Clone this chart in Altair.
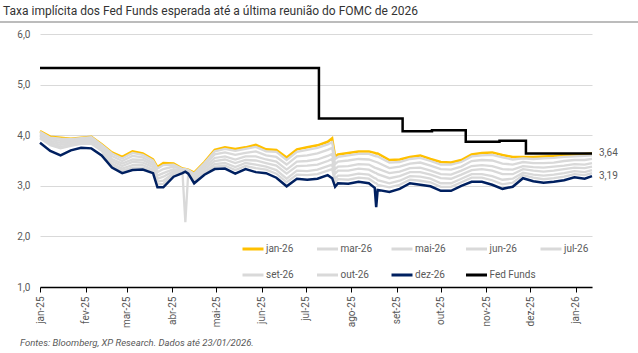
import altair as alt
import pandas as pd

# ---------------- data ----------------
dates = [
    "2025-01-01", "2025-01-08", "2025-01-15", "2025-01-22", "2025-01-29", "2025-02-05", "2025-02-12",
    "2025-02-19", "2025-02-26", "2025-03-05", "2025-03-12", "2025-03-19", "2025-03-22", "2025-03-26",
    "2025-04-02", "2025-04-08", "2025-04-10", "2025-04-12", "2025-04-16", "2025-04-23", "2025-04-30",
    "2025-05-07", "2025-05-14", "2025-05-21", "2025-05-28", "2025-06-04", "2025-06-11", "2025-06-18",
    "2025-06-25", "2025-07-02", "2025-07-09", "2025-07-16", "2025-07-19", "2025-07-21", "2025-07-23",
    "2025-07-30", "2025-08-06", "2025-08-13", "2025-08-17", "2025-08-18", "2025-08-19", "2025-08-27",
    "2025-09-03", "2025-09-10", "2025-09-17", "2025-09-24", "2025-10-01", "2025-10-08", "2025-10-15",
    "2025-10-22", "2025-10-29", "2025-11-05", "2025-11-12", "2025-11-19", "2025-11-26", "2025-12-03",
    "2025-12-10", "2025-12-17", "2025-12-24", "2025-12-31", "2026-01-07", "2026-01-12",
]

jan_26 = [4.08, 3.97, 3.95, 3.93, 3.95, 3.97, 3.82,
          3.66, 3.57, 3.68, 3.64, 3.52, 3.37, 3.45,
          3.44, 3.34, 3.33, 3.32, 3.26, 3.47, 3.71,
          3.76, 3.73, 3.76, 3.81, 3.72, 3.71, 3.56,
          3.72, 3.76, 3.80, 3.87, 3.94, 3.58, 3.62,
          3.65, 3.68, 3.68, 3.65, 3.64, 3.64, 3.51,
          3.52, 3.57, 3.60, 3.53, 3.47, 3.46, 3.51,
          3.62, 3.65, 3.66, 3.61, 3.57, 3.57, 3.57,
          3.58, 3.59, 3.61, 3.62, 3.63, 3.64]

mar_26 = [4.07, 3.95, 3.93, 3.92, 3.94, 3.96, 3.81,
          3.64, 3.54, 3.65, 3.61, 3.50, 3.34, 3.41,
          3.42, 3.33, 3.33, 3.31, 3.24, 3.45, 3.68,
          3.73, 3.69, 3.73, 3.77, 3.68, 3.67, 3.51,
          3.67, 3.71, 3.75, 3.82, 3.86, 3.53, 3.57,
          3.60, 3.63, 3.63, 3.59, 3.58, 3.58, 3.46,
          3.47, 3.53, 3.55, 3.49, 3.42, 3.42, 3.47,
          3.58, 3.60, 3.61, 3.56, 3.52, 3.54, 3.53,
          3.54, 3.55, 3.57, 3.58, 3.59, 3.60]

mai_26 = [4.04, 3.92, 3.89, 3.89, 3.91, 3.93, 3.78,
          3.59, 3.49, 3.59, 3.56, 3.45, 3.27, 3.33,
          3.38, 3.32, 3.32, 3.30, 3.21, 3.41, 3.62,
          3.66, 3.61, 3.65, 3.68, 3.60, 3.57, 3.42,
          3.58, 3.60, 3.64, 3.71, 3.75, 3.43, 3.48,
          3.50, 3.53, 3.52, 3.48, 3.47, 3.46, 3.35,
          3.38, 3.44, 3.46, 3.40, 3.33, 3.32, 3.38,
          3.49, 3.51, 3.50, 3.44, 3.42, 3.47, 3.45,
          3.45, 3.46, 3.49, 3.51, 3.51, 3.53]

jun_26 = [4.01, 3.89, 3.85, 3.86, 3.89, 3.90, 3.76,
          3.53, 3.44, 3.52, 3.51, 3.41, 3.20, 3.25,
          3.33, 3.30, 3.31, 3.29, 3.17, 3.37, 3.55,
          3.58, 3.52, 3.58, 3.58, 3.52, 3.48, 3.32,
          3.48, 3.49, 3.52, 3.59, 3.63, 3.33, 3.38,
          3.39, 3.43, 3.42, 3.36, 3.35, 3.34, 3.25,
          3.28, 3.35, 3.36, 3.30, 3.23, 3.22, 3.30,
          3.39, 3.41, 3.39, 3.33, 3.32, 3.39, 3.37,
          3.36, 3.38, 3.40, 3.43, 3.42, 3.45]

jul_26 = [3.99, 3.86, 3.81, 3.84, 3.87, 3.88, 3.73,
          3.49, 3.39, 3.47, 3.46, 3.37, 3.14, 3.18,
          3.29, 3.29, 2.28, 3.27, 3.14, 3.33, 3.49,
          3.52, 3.45, 3.51, 3.50, 3.45, 3.40, 3.24,
          3.39, 3.40, 3.42, 3.49, 3.53, 3.24, 3.30,
          3.30, 3.34, 3.32, 3.26, 3.25, 3.23, 3.15,
          3.19, 3.27, 3.27, 3.22, 3.15, 3.14, 3.22,
          3.31, 3.33, 3.30, 3.23, 3.23, 3.33, 3.30,
          3.28, 3.30, 3.33, 3.36, 3.35, 3.38]

set_26 = [3.96, 3.83, 3.77, 3.81, 3.85, 3.85, 3.71,
          3.44, 3.34, 3.41, 3.41, 3.32, 3.08, 3.10,
          3.25, 3.27, 3.29, 3.26, 3.11, 3.29, 3.43,
          3.45, 3.37, 3.45, 3.42, 3.38, 3.31, 3.14,
          3.30, 3.29, 3.32, 3.39, 3.42, 3.14, 3.20,
          3.20, 3.24, 3.22, 3.15, 3.14, 3.11, 3.05,
          3.10, 3.19, 3.18, 3.14, 3.05, 3.05, 3.14,
          3.23, 3.23, 3.19, 3.12, 3.14, 3.26, 3.22,
          3.20, 3.22, 3.25, 3.29, 3.27, 3.31]

out_26 = [3.94, 3.80, 3.74, 3.79, 3.83, 3.83, 3.69,
          3.40, 3.30, 3.36, 3.36, 3.29, 3.03, 3.04,
          3.22, 3.26, 3.29, 3.25, 3.08, 3.26, 3.38,
          3.40, 3.31, 3.39, 3.35, 3.32, 3.24, 3.07,
          3.22, 3.21, 3.23, 3.30, 3.33, 3.06, 3.13,
          3.12, 3.16, 3.14, 3.06, 3.05, 3.02, 2.97,
          3.02, 3.12, 3.10, 3.07, 2.98, 2.98, 3.07,
          3.16, 3.16, 3.11, 3.03, 3.06, 3.21, 3.16,
          3.13, 3.15, 3.18, 3.23, 3.21, 3.25]

dez_26 = [3.85, 3.69, 3.60, 3.70, 3.75, 3.74, 3.60,
          3.36, 3.25, 3.31, 3.32, 3.25, 2.97, 2.97,
          3.18, 3.25, 3.28, 3.24, 3.05, 3.22, 3.33,
          3.34, 3.24, 3.33, 3.27, 3.25, 3.16, 2.99,
          3.14, 3.12, 3.14, 3.21, 3.15, 2.98, 3.05,
          3.04, 3.08, 3.05, 2.96, 2.58, 2.92, 2.88,
          2.94, 3.05, 3.02, 2.99, 2.90, 2.90, 3.00,
          3.08, 3.08, 3.02, 2.94, 2.98, 3.15, 3.09,
          3.06, 3.08, 3.11, 3.17, 3.14, 3.19]

ff_dates = ["2025-01-01", "2025-07-10", "2025-09-05", "2025-09-25",
            "2025-10-18", "2025-11-10", "2025-11-28", "2026-01-12"]
ff_values = [5.33, 4.33, 4.08, 4.10, 3.87, 3.89, 3.64, 3.64]

series_names = ["jan-26", "mar-26", "mai-26", "jun-26", "jul-26",
                "set-26", "out-26", "dez-26", "Fed Funds"]
series_colors = ["#FFC000", "#D9D9D9", "#D9D9D9", "#D9D9D9", "#D9D9D9",
                 "#D9D9D9", "#D9D9D9", "#002060", "#000000"]
grey_names = ["mar-26", "mai-26", "jun-26", "jul-26", "set-26", "out-26"]

month_ticks = [(2025, m) for m in range(1, 13)] + [(2026, 1)]

title_text = "Taxa implícita dos Fed Funds esperada até a última reunião do FOMC de 2026"
footer_text = "Fontes: Bloomberg, XP Research. Dados até 23/01/2026."

# ---------------- tables ----------------
rows = []
for name, vals in [("jan-26", jan_26), ("mar-26", mar_26), ("mai-26", mai_26),
                   ("jun-26", jun_26), ("jul-26", jul_26), ("set-26", set_26),
                   ("out-26", out_26), ("dez-26", dez_26)]:
    for d, v in zip(dates, vals):
        rows.append({"date": d, "serie": name, "valor": v})
df = pd.DataFrame(rows)
df_ff = pd.DataFrame({"date": ff_dates, "serie": "Fed Funds", "valor": ff_values})

df_end = pd.DataFrame({
    "date": [ff_dates[-1], dates[-1]],
    "valor": [ff_values[-1], dez_26[-1]],
})
df_end["label"] = df_end["valor"].map(lambda v: f"{v:.2f}".replace(".", ","))

FONT = "Roboto"
GREY_TXT = "#595959"

x_enc = alt.X(
    "date:T",
    title=None,
    scale=alt.Scale(type="utc",
                    domain=[alt.DateTime(year=2025, month=1, date=1, utc=True),
                            alt.DateTime(year=2026, month=1, date=12, utc=True)]),
    axis=alt.Axis(
        values=[alt.DateTime(year=y, month=m, date=1, utc=True) for y, m in month_ticks],
        labelExpr="['jan','fev','mar','abr','mai','jun','jul','ago','set','out','nov','dez'][utcmonth(datum.value)] + '-' + utcFormat(datum.value, '%y')",
        labelAngle=-90, labelFontSize=10, labelColor=GREY_TXT, labelFont=FONT,
        labelPadding=4, domainColor="#000000", domainWidth=1.5,
        tickColor="#000000", tickSize=5, tickWidth=1, grid=False,
    ),
)
y_enc = alt.Y(
    "valor:Q",
    title=None,
    scale=alt.Scale(domain=[1, 6], nice=False, zero=False),
    axis=alt.Axis(
        values=[1, 2, 3, 4, 5, 6],
        labelExpr="replace(format(datum.value, '.1f'), '.', ',')",
        labelFontSize=10, labelColor=GREY_TXT, labelFont=FONT, labelPadding=10,
        ticks=False, domain=False, grid=True, gridColor="#D9D9D9", gridWidth=1,
    ),
)
color_enc = alt.Color(
    "serie:N",
    scale=alt.Scale(domain=series_names, range=series_colors),
    legend=alt.Legend(
        title=None, orient="none", legendX=201, legendY=203, columns=5,
        direction="horizontal",
        symbolType="stroke", symbolSize=441, symbolStrokeWidth=3,
        labelFontSize=10, labelColor=GREY_TXT, labelFont=FONT, labelOffset=1,
        rowPadding=8, columnPadding=-2.5, gridAlign="all",
    ),
)

base = alt.Chart(df).encode(x=x_enc, y=y_enc, color=color_enc)

yellow = base.transform_filter(alt.datum.serie == "jan-26").mark_line(strokeWidth=2.5)
greys = base.transform_filter(
    alt.FieldOneOfPredicate(field="serie", oneOf=grey_names)
).mark_line(strokeWidth=2.3)
navy = base.transform_filter(alt.datum.serie == "dez-26").mark_line(strokeWidth=2.5)
fed = alt.Chart(df_ff).mark_line(interpolate="step-after", strokeWidth=2.5).encode(
    x=x_enc, y=y_enc, color=color_enc)

end_labels = alt.Chart(df_end).mark_text(
    align="left", baseline="middle", dx=7, fontSize=10, color=GREY_TXT, font=FONT
).encode(x=x_enc, y=y_enc, text="label:N")

title = alt.Chart(pd.DataFrame({"t": [title_text]})).mark_text(
    align="left", baseline="middle", fontSize=12, color="#333333", font=FONT
).encode(x=alt.value(-37), y=alt.value(-23), text="t:N")

title_rule = alt.Chart(pd.DataFrame({"t": [0]})).mark_rule(
    color="#A6A6A6", strokeWidth=1.5
).encode(x=alt.value(-40), x2=alt.value(598), y=alt.value(-12))

footer = alt.Chart(pd.DataFrame({"t": [footer_text]})).mark_text(
    align="left", baseline="middle", fontSize=9.5, fontStyle="italic",
    color=GREY_TXT, font=FONT
).encode(x=alt.value(-20), y=alt.value(309), text="t:N")

chart = alt.layer(
    yellow, greys, navy, fed, end_labels, title_rule, title, footer
).properties(
    width=552, height=253,
    autosize=alt.AutoSizeParams(type="none"),
    padding={"left": 40, "top": 34, "right": 46, "bottom": 66},
    background="white",
).configure_view(stroke=None)

chart.save("out.html", embed_options={"renderer": "svg", "actions": False})
